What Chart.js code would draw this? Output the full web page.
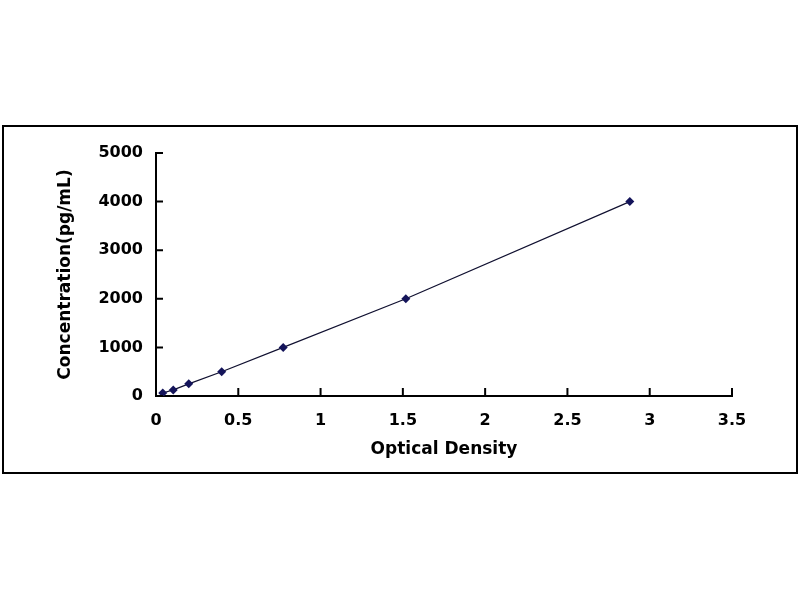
<!DOCTYPE html>
<html>
<head>
<meta charset="utf-8">
<script src="https://cdn.jsdelivr.net/npm/chart.js@4"></script>
<style>
  body { margin: 0; background: #fff; }
  #wrap { width: 800px; height: 600px; }
</style>
</head>
<body>
<div id="wrap"><canvas id="myChart" width="800" height="600"></canvas></div>
<script>
// standard curve data
const opticalDensity = [0.041, 0.105, 0.199, 0.399, 0.773, 1.518, 2.879];
const concentration = [62.5, 125, 250, 500, 1000, 2000, 4000];

const xTicks = [0, 0.5, 1, 1.5, 2, 2.5, 3, 3.5];
const yTicks = [0, 1000, 2000, 3000, 4000, 5000];

const FONT = "'DejaVu Sans', 'Liberation Sans', Arial, sans-serif";

// white page + outer frame
const framePlugin = {
  id: "frame",
  beforeDraw(chart) {
    const ctx = chart.ctx;
    ctx.save();
    ctx.fillStyle = "#fff";
    ctx.fillRect(0, 0, chart.width, chart.height);
    ctx.strokeStyle = "#000";
    ctx.lineWidth = 2;
    ctx.strokeRect(3, 126, 794, 347);
    ctx.restore();
  },
};

// tick marks pointing into the plot, like Excel
const innerTicks = {
  id: "innerTicks",
  afterDraw(chart) {
    const ctx = chart.ctx;
    const x = chart.scales.x;
    const y = chart.scales.y;
    ctx.save();
    ctx.strokeStyle = "#000";
    ctx.lineWidth = 2;
    ctx.beginPath();
    xTicks.forEach((v) => {
      const px = x.getPixelForValue(v);
      ctx.moveTo(px, y.bottom);
      ctx.lineTo(px, y.bottom - 8);
    });
    yTicks.forEach((v) => {
      const py = y.getPixelForValue(v);
      ctx.moveTo(x.left, py);
      ctx.lineTo(x.left + 7, py);
    });
    ctx.stroke();
    ctx.restore();
  },
};

const ctx = document.getElementById("myChart").getContext("2d");
new Chart(ctx, {
  type: "scatter",
  data: {
    datasets: [
      {
        data: opticalDensity.map((od, i) => ({ x: od, y: concentration[i] })),
        showLine: true,
        borderColor: "#101030",
        borderWidth: 1.2,
        pointStyle: "rectRot",
        pointRadius: 4.5,
        pointBackgroundColor: "#14145a",
        pointBorderColor: "#14145a",
        pointBorderWidth: 0,
        tension: 0,
      },
    ],
  },
  options: {
    responsive: false,
    animation: false,
    layout: {
      padding: { left: 55, top: 153, right: 68, bottom: 140 },
    },
    plugins: {
      legend: { display: false },
      tooltip: { enabled: false },
    },
    scales: {
      x: {
        type: "linear",
        min: 0,
        max: 3.5,
        afterBuildTicks: (scale) => {
          scale.ticks = xTicks.map((v) => ({ value: v }));
        },
        afterFit: (scale) => {
          scale.height = 64;
        },
        grid: { display: false, drawTicks: false },
        border: { display: true, color: "#000", width: 2 },
        ticks: {
          padding: 15,
          color: "#000",
          maxRotation: 0,
          font: { family: FONT, size: 16, weight: "bold" },
          callback: (v) => String(v),
        },
        title: {
          display: true,
          text: "Optical Density",
          color: "#000",
          padding: 0,
          font: { family: FONT, size: 17, weight: "bold" },
        },
      },
      y: {
        type: "linear",
        min: 0,
        max: 5000,
        afterBuildTicks: (scale) => {
          scale.ticks = yTicks.map((v) => ({ value: v }));
        },
        afterFit: (scale) => {
          scale.width = 101;
        },
        grid: { display: false, drawTicks: false },
        border: { display: true, color: "#000", width: 2 },
        ticks: {
          padding: 13,
          color: "#000",
          font: { family: FONT, size: 16, weight: "bold" },
          callback: (v) => String(v),
        },
        title: {
          display: true,
          text: "Concentration(pg/mL)",
          color: "#000",
          padding: 0,
          font: { family: FONT, size: 17, weight: "bold" },
        },
      },
    },
  },
  plugins: [framePlugin, innerTicks],
});
</script>
</body>
</html>
